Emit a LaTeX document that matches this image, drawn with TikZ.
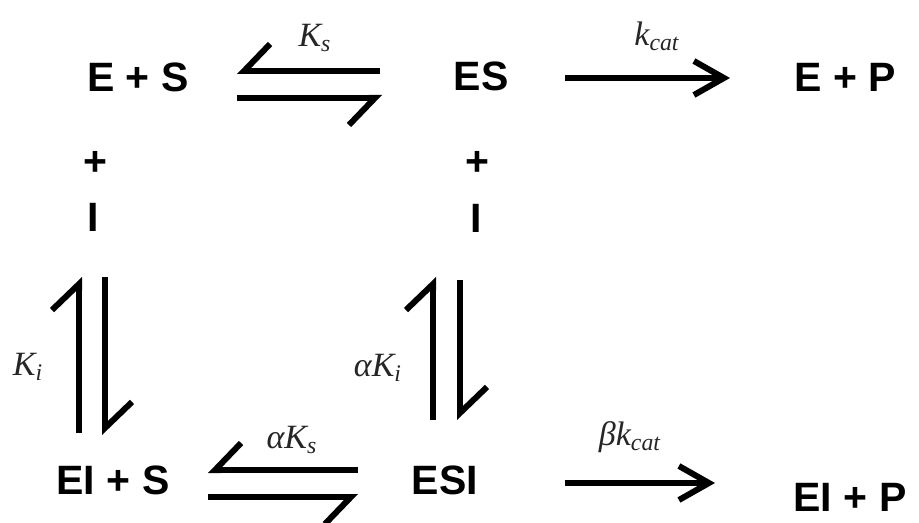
\documentclass[tikz,border=0pt]{standalone}
\usepackage{fontspec}
\setmainfont{Liberation Serif}
\setsansfont{Liberation Sans}
\usetikzlibrary{arrows.meta}

\begin{document}
\begin{tikzpicture}[
  x=0.5pt, y=-0.5pt,
  species/.style={font=\sffamily\bfseries\fontsize{20.5}{25}\selectfont, inner sep=0pt},
  rate/.style={font=\itshape\fontsize{17}{20}\selectfont, inner sep=0pt, text=black!85},
  eqline/.style={line width=3pt},
  harpL/.style={eqline, -{Straight Barb[harpoon, length=13pt, width=27pt]}},
  harpR/.style={eqline, -{Straight Barb[harpoon, swap, length=13pt, width=27pt]}},
  fwd/.style={eqline, -{Straight Barb[length=15pt, width=17pt]}}
]
  \useasboundingbox (0,0) rectangle (919,523);

  \node[species] (es1)   at (138,77)  {E + S};
  \node[species] (es)    at (481,76)  {ES};
  \node[species] (ep)    at (845,77)  {E + P};
  \node[species] (plus1) at (95,163)  {+};
  \node[species] (i1)    at (93,217)  {I};
  \node[species] (plus2) at (477,163) {+};
  \node[species] (i2)    at (476,218) {I};
  \node[species] (eis)   at (113,480) {EI + S};
  \node[species] (esi)   at (445,480) {ESI};
  \node[species] (eip)   at (850,497) {EI + P};

  \node[rate] (ks)    at (315,38)  {K\textsubscript{s}};
  \node[rate] (kcat)  at (657,36)  {k\textsubscript{cat}};
  \node[rate] (ki)    at (28,367)  {K\textsubscript{i}};
  \node[rate] (aki)   at (378,368) {αK\textsubscript{i}};
  \node[rate] (aks)   at (292,440) {αK\textsubscript{s}};
  \node[rate] (bkcat) at (630,437) {βk\textsubscript{cat}};

  % binding equilibria
  \draw[harpR] ([shift={(-101,-5)}]es.center) -- ([shift={(99,-6)}]es1.center);
  \draw[harpR] ([shift={(99,21)}]es1.center) -- ([shift={(-99,22)}]es.center);
  \draw[harpR] ([shift={(-87,-10)}]esi.center) -- ([shift={(95,-10)}]eis.center);
  \draw[harpR] ([shift={(95,17)}]eis.center) -- ([shift={(-87,17)}]esi.center);
  \draw[harpL] ([shift={(-34,-47)}]eis.center) -- ([shift={(-14,60)}]i1.center);
  \draw[harpL] ([shift={(12,60)}]i1.center) -- ([shift={(-8,-45)}]eis.center);
  \draw[harpL] ([shift={(-12,-60)}]esi.center) -- ([shift={(-43,59)}]i2.center);
  \draw[harpL] ([shift={(-16,62)}]i2.center) -- ([shift={(15,-60)}]esi.center);

  % catalytic steps
  \draw[fwd] ([shift={(84,2)}]es.center) -- ([shift={(-115,1)}]ep.center);
  \draw[fwd] ([shift={(120,3)}]esi.center) -- ([shift={(-135,-14)}]eip.center);
\end{tikzpicture}
\end{document}
